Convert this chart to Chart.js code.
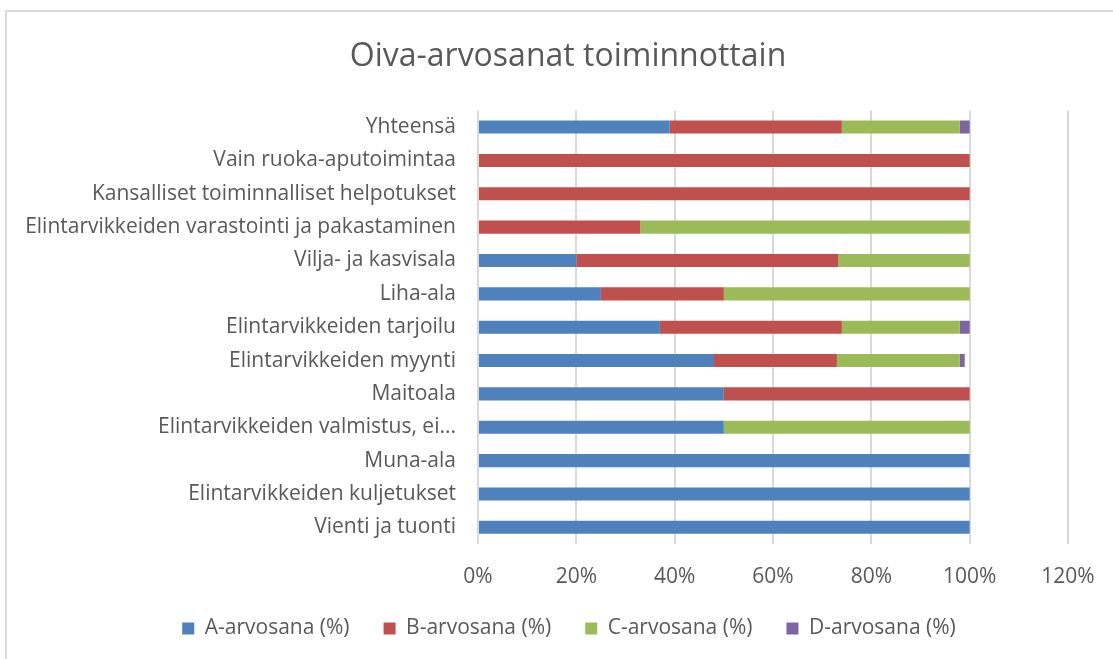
<!DOCTYPE html>
<html>
<head>
<meta charset="utf-8">
<script src="https://cdn.jsdelivr.net/npm/chart.js@4"></script>
<style>
  html, body { margin: 0; padding: 0; background: #ffffff; }
  #wrap { width: 1113px; height: 659px; position: relative; }
</style>
</head>
<body>
<div id="wrap"><canvas id="c" width="1113" height="659"></canvas></div>
<script>
const categories = [
  "Yhteensä",
  "Vain ruoka-aputoimintaa",
  "Kansalliset toiminnalliset helpotukset",
  "Elintarvikkeiden varastointi ja pakastaminen",
  "Vilja- ja kasvisala",
  "Liha-ala",
  "Elintarvikkeiden tarjoilu",
  "Elintarvikkeiden myynti",
  "Maitoala",
  "Elintarvikkeiden valmistus, ei...",
  "Muna-ala",
  "Elintarvikkeiden kuljetukset",
  "Vienti ja tuonti"
];
const seriesNames = ["A-arvosana (%)", "B-arvosana (%)", "C-arvosana (%)", "D-arvosana (%)"];
const gradeA = [39, 0, 0, 0, 20, 25, 37, 48, 50, 50, 100, 100, 100];
const gradeB = [35, 100, 100, 33, 53.3, 25, 37, 25, 50, 0, 0, 0, 0];
const gradeC = [24, 0, 0, 67, 26.7, 50, 24, 25, 0, 50, 0, 0, 0];
const gradeD = [2, 0, 0, 0, 0, 0, 2, 1, 0, 0, 0, 0, 0];
const xTicks = [0, 20, 40, 60, 80, 100, 120];
const colors = ["#4f81bd", "#c0504d", "#9bbb59", "#8064a2"];

const FONT = "'Open Sans', sans-serif";
const TXT = "#595959";
const TITLE_SHIFT = 34;
const LEGEND_SHIFT = 35;

const sheetPlugin = {
  id: "sheet",
  afterLayout(chart) {
    // Title and legend are centred on the full (wider) Excel chart area
    if (chart.titleBlock) { chart.titleBlock.left += TITLE_SHIFT; chart.titleBlock.right += TITLE_SHIFT; }
    if (chart.legend) { chart.legend.left += LEGEND_SHIFT; chart.legend.right += LEGEND_SHIFT; }
  },
  beforeDraw(chart) {
    const ctx = chart.ctx;
    ctx.save();
    ctx.fillStyle = "#ffffff";
    ctx.fillRect(0, 0, chart.width, chart.height);
    ctx.strokeStyle = "#d9d9d9";
    ctx.lineWidth = 2;
    ctx.beginPath();
    ctx.moveTo(6, chart.height);
    ctx.lineTo(6, 11);
    ctx.lineTo(chart.width, 11);
    ctx.stroke();
    ctx.restore();
  }
};

const datasets = [gradeA, gradeB, gradeC, gradeD].map((d, i) => ({
  label: seriesNames[i],
  data: d,
  backgroundColor: colors[i],
  borderWidth: 0,
  barPercentage: 0.8,
  categoryPercentage: 0.49
}));

new Chart(document.getElementById("c"), {
  type: "bar",
  data: { labels: categories, datasets },
  plugins: [sheetPlugin],
  options: {
    indexAxis: "y",
    responsive: false,
    animation: false,
    layout: { padding: { left: 0, right: 45, top: 28, bottom: 10 } },
    plugins: {
      title: {
        display: true,
        text: "Oiva-arvosanat toiminnottain",
        color: TXT,
        font: { family: FONT, size: 32, weight: "normal" },
        padding: { top: 10, bottom: 34 }
      },
      legend: {
        position: "bottom",
        labels: {
          color: TXT,
          font: { family: FONT, size: 21 },
          boxWidth: 12,
          boxHeight: 12,
          padding: 34
        }
      },
      tooltip: { enabled: false }
    },
    scales: {
      x: {
        stacked: true,
        min: 0,
        max: 120,
        afterBuildTicks(scale) { scale.ticks = xTicks.map(v => ({ value: v })); },
        afterFit(scale) { scale.height = 40; scale.paddingRight = 45; scale.paddingLeft = 0; },
        ticks: {
          color: TXT,
          font: { family: FONT, size: 21 },
          padding: 20,
          maxRotation: 0,
          callback: v => v + "%"
        },
        grid: { color: "#d9d9d9", lineWidth: 2, drawTicks: false },
        border: { display: false }
      },
      y: {
        stacked: true,
        afterFit(scale) { scale.width = 478; },
        ticks: {
          color: TXT,
          font: { family: FONT, size: 21 },
          padding: 22,
          autoSkip: false
        },
        grid: { display: false, drawTicks: false },
        border: { display: false }
      }
    }
  }
});
</script>
</body>
</html>
